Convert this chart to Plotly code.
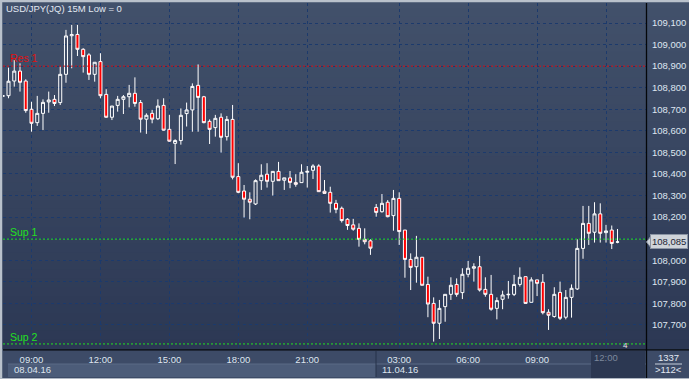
import plotly.graph_objects as go

# ---------------- data (15M bars, index 0 = 08.04.16 09:00) ----------------
bar_index = list(range(-5, 103))

opens = [108.760,
    108.763, 108.831, 108.877, 108.831, 108.700, 108.638, 108.681, 108.734, 108.746, 108.731,
    108.862, 109.041, 109.047, 108.978, 108.952, 108.862, 108.921, 108.769, 108.663, 108.718,
    108.746, 108.758, 108.774, 108.731, 108.654, 108.681, 108.656, 108.718, 108.607, 108.542,
    108.555, 108.680, 108.697, 108.811, 108.758, 108.644, 108.615, 108.663, 108.573, 108.653,
    108.388, 108.321, 108.283, 108.261, 108.369, 108.399, 108.366, 108.412, 108.371, 108.382,
    108.360, 108.360, 108.408, 108.417, 108.437, 108.320, 108.315, 108.264, 108.241, 108.190,
    108.164, 108.148, 108.097, 108.090, 108.245, 108.225, 108.269, 108.207, 108.287, 108.140,
    108.004, 107.970, 108.014, 107.888, 107.800, 107.708, 107.785, 107.842, 107.888, 107.850,
    107.935, 107.963, 107.970, 107.865, 107.842, 107.777, 107.819, 107.840, 107.842, 107.888,
    107.924, 107.805, 107.909, 107.898, 107.759, 107.739, 107.851, 107.736, 107.828, 107.867,
    108.055, 108.171, 108.130, 108.215, 108.128, 108.140, 108.084]
highs = [108.766,
    108.893, 108.929, 108.913, 108.839, 108.735, 108.762, 108.746, 108.782, 108.766, 108.898,
    109.068, 109.091, 109.091, 108.983, 108.960, 108.918, 108.960, 108.793, 108.715, 108.762,
    108.766, 108.813, 108.848, 108.743, 108.681, 108.697, 108.746, 108.751, 108.674, 108.561,
    108.704, 108.731, 108.820, 108.908, 108.762, 108.653, 108.674, 108.681, 108.669, 108.720,
    108.450, 108.349, 108.315, 108.375, 108.445, 108.450, 108.412, 108.456, 108.382, 108.414,
    108.399, 108.445, 108.437, 108.445, 108.445, 108.372, 108.341, 108.280, 108.249, 108.195,
    108.192, 108.171, 108.148, 108.097, 108.261, 108.307, 108.279, 108.326, 108.315, 108.140,
    108.032, 108.113, 108.014, 107.924, 107.828, 107.816, 107.842, 107.921, 107.916, 107.963,
    107.997, 107.986, 108.020, 107.921, 107.932, 107.828, 107.859, 107.904, 107.932, 107.967,
    107.924, 107.921, 107.909, 107.936, 107.773, 107.875, 107.901, 107.862, 107.888, 108.097,
    108.252, 108.252, 108.269, 108.264, 108.164, 108.161, 108.145]
lows = [108.757,
    108.751, 108.805, 108.782, 108.684, 108.596, 108.623, 108.604, 108.684, 108.715, 108.720,
    108.823, 108.890, 108.947, 108.870, 108.836, 108.828, 108.751, 108.661, 108.650, 108.689,
    108.678, 108.709, 108.712, 108.592, 108.586, 108.635, 108.650, 108.601, 108.550, 108.446,
    108.536, 108.620, 108.596, 108.596, 108.635, 108.539, 108.573, 108.499, 108.555, 108.375,
    108.311, 108.198, 108.190, 108.256, 108.326, 108.337, 108.300, 108.369, 108.326, 108.334,
    108.341, 108.360, 108.337, 108.377, 108.318, 108.310, 108.221, 108.218, 108.175, 108.141,
    108.137, 108.063, 108.074, 108.025, 108.202, 108.221, 108.199, 108.137, 108.071, 107.919,
    107.862, 107.896, 107.884, 107.736, 107.623, 107.635, 107.715, 107.816, 107.831, 107.820,
    107.921, 107.901, 107.855, 107.831, 107.766, 107.726, 107.773, 107.822, 107.834, 107.878,
    107.800, 107.805, 107.834, 107.749, 107.677, 107.734, 107.723, 107.726, 107.734, 107.862,
    108.007, 108.071, 108.082, 108.082, 108.082, 108.052, 108.079]
closes = [108.763,
    108.830, 108.877, 108.825, 108.694, 108.635, 108.681, 108.732, 108.743, 108.727, 108.862,
    109.040, 109.046, 108.978, 108.944, 108.862, 108.918, 108.763, 108.663, 108.715, 108.746,
    108.758, 108.774, 108.727, 108.654, 108.672, 108.654, 108.715, 108.603, 108.552, 108.555,
    108.672, 108.697, 108.806, 108.755, 108.638, 108.607, 108.658, 108.570, 108.653, 108.385,
    108.315, 108.283, 108.269, 108.369, 108.394, 108.366, 108.412, 108.369, 108.382, 108.361,
    108.352, 108.408, 108.412, 108.437, 108.318, 108.310, 108.264, 108.236, 108.184, 108.161,
    108.144, 108.097, 108.086, 108.056, 108.222, 108.264, 108.202, 108.287, 108.133, 108.004,
    107.967, 108.014, 107.884, 107.797, 107.708, 107.777, 107.842, 107.884, 107.842, 107.935,
    107.963, 107.970, 107.862, 107.842, 107.773, 107.813, 107.839, 107.842, 107.888, 107.921,
    107.800, 107.909, 107.893, 107.757, 107.745, 107.842, 107.731, 107.828, 107.870, 108.055,
    108.171, 108.125, 108.215, 108.125, 108.136, 108.078, 108.085]

time_tick_index = [0, 12, 24, 36, 48, 64, 76, 88, 100]
time_tick_labels = ["09:00", "12:00", "15:00", "18:00", "21:00", "03:00", "06:00", "09:00", ""]
future_label = "12:00"
date_labels = ["08.04.16", "11.04.16"]

price_ticks = [107.7, 107.8, 107.9, 108.0, 108.1, 108.2, 108.3, 108.4, 108.5,
               108.6, 108.7, 108.8, 108.9, 109.0, 109.1]
# the 108,100 label is hidden behind the last-price marker in the reference
price_tick_labels = ["" if abs(v - 108.1) < 1e-9 else f"{v:.3f}".replace(".", ",")
                     for v in price_ticks]

level_names = ["Res 1", "Sup 1", "Sup 2"]
level_values = [108.900, 108.098, 107.612]
level_colors = ["#e01010", "#22e022", "#22e022"]
last_price = 108.085

title_text = "USD/JPY(JQ) 15M Low = 0"
corner_top, corner_bottom = "1337", ">112<"

# ---------------- layout geometry ----------------
W, H = 689, 379
L, R, T, B = 3, 43, 3, 30
PW, PH = W - L - R, H - T - B


def px(x):
    return (x - L) / PW


def py(y):
    return (H - B - y) / PH


fig = go.Figure()
fig.add_trace(go.Candlestick(
    x=bar_index, open=opens, high=highs, low=lows, close=closes,
    increasing=dict(line=dict(color="#ffffff", width=1), fillcolor="rgba(0,0,0,0)"),
    decreasing=dict(line=dict(color="#ffffff", width=1), fillcolor="#ff0000"),
    whiskerwidth=0, hoverinfo="skip", showlegend=False,
))

shapes = []
# background gradient (plot + right axis column)
top_c = (66, 81, 107)
bot_c = (44, 56, 84)
n = 40
for i in range(n):
    y0 = 349 * i / n
    y1 = 349 * (i + 1) / n
    t = (i + 0.5) / n
    c = tuple(int(round(top_c[k] + (bot_c[k] - top_c[k]) * t)) for k in range(3))
    shapes.append(dict(type="rect", xref="paper", yref="paper", layer="below",
                       x0=px(0), x1=px(W), y0=py(y1), y1=py(y0) + (0.002 if i else 0),
                       fillcolor=f"rgb{c}", line=dict(width=0)))
# bottom axis bands
shapes.append(dict(type="rect", xref="paper", yref="paper", layer="below",
                   x0=px(0), x1=px(W), y0=py(H), y1=py(349),
                   fillcolor="#3d4b67", line=dict(width=0)))
shapes.append(dict(type="rect", xref="paper", yref="paper", layer="below",
                   x0=px(8), x1=px(376), y0=py(377), y1=py(364),
                   fillcolor="#4c5c79", line=dict(width=0)))
shapes.append(dict(type="rect", xref="paper", yref="paper", layer="below",
                   x0=px(376), x1=px(646), y0=py(377), y1=py(364),
                   fillcolor="#3a4864", line=dict(width=0)))
shapes.append(dict(type="line", xref="paper", yref="paper", layer="below",
                   x0=px(8), x1=px(646), y0=py(364), y1=py(364),
                   line=dict(color="#5a6a86", width=1)))
shapes.append(dict(type="line", xref="paper", yref="paper", layer="below",
                   x0=px(376), x1=px(376), y0=py(377), y1=py(351),
                   line=dict(color="#26324a", width=1)))
# future time box
shapes.append(dict(type="rect", xref="paper", yref="paper", layer="below",
                   x0=px(591), x1=px(645), y0=py(378), y1=py(351),
                   fillcolor="#2c3852", line=dict(width=0)))
# corner separator line
shapes.append(dict(type="line", xref="paper", yref="paper", layer="above",
                   x0=px(655), x1=px(682), y0=py(364), y1=py(364),
                   line=dict(color="#c8d0dc", width=1)))

# support / resistance levels
for v, c in zip(level_values, level_colors):
    shapes.append(dict(type="line", xref="paper", yref="y", layer="above",
                       x0=0, x1=1, y0=v, y1=v,
                       line=dict(color=c, width=1, dash="2px,2px")))

# axis frame lines
shapes.append(dict(type="line", xref="paper", yref="paper", layer="above",
                   x0=px(646.5), x1=px(646.5), y0=py(H), y1=py(3),
                   line=dict(color="#05070a", width=1.3)))
shapes.append(dict(type="line", xref="paper", yref="paper", layer="above",
                   x0=px(3), x1=px(W), y0=py(349.8), y1=py(349.8),
                   line=dict(color="#05070a", width=1.3)))
# outer light frame
shapes.append(dict(type="line", xref="paper", yref="paper", layer="above",
                   x0=px(1), x1=px(1), y0=py(H), y1=py(0),
                   line=dict(color="#b9c1cb", width=2.5)))
shapes.append(dict(type="line", xref="paper", yref="paper", layer="above",
                   x0=px(0), x1=px(W), y0=py(1), y1=py(1),
                   line=dict(color="#b9c1cb", width=2.5)))
shapes.append(dict(type="line", xref="paper", yref="paper", layer="above",
                   x0=px(0), x1=px(W), y0=py(378.5), y1=py(378.5),
                   line=dict(color="#aeb6c2", width=1)))

annotations = []
annotations.append(dict(xref="paper", yref="paper", x=px(4), y=py(8.5),
                        xanchor="left", yanchor="middle", showarrow=False,
                        text=title_text,
                        font=dict(family="Liberation Sans, Arial", size=9.5, color="#e2e8f2")))
label_y = [57.5, 231.5, 336.5]
for name, c, yy in zip(level_names, level_colors, label_y):
    annotations.append(dict(xref="paper", yref="paper", x=px(8), y=py(yy),
                            xanchor="left", yanchor="middle", showarrow=False,
                            text=name,
                            font=dict(family="Liberation Sans, Arial", size=10.5, color=c)))
annotations.append(dict(xref="paper", yref="paper", x=px(625), y=py(345),
                        xanchor="center", yanchor="middle", showarrow=False, text="4",
                        font=dict(family="Liberation Sans, Arial", size=8, color="#e8e8e8")))
# date row
for txt, xx in zip(date_labels, [12, 380]):
    annotations.append(dict(xref="paper", yref="paper", x=px(xx), y=py(369.5),
                            xanchor="left", yanchor="middle", showarrow=False, text=txt,
                            font=dict(family="Liberation Sans, Arial", size=9.5, color="#dde4ee")))
annotations.append(dict(xref="x", yref="paper", x=time_tick_index[-1], y=py(358),
                        xanchor="center", yanchor="middle", showarrow=False, text=future_label,
                        font=dict(family="Liberation Sans, Arial", size=9.5, color="#7c889c")))
# last price marker (notch + box)
shapes.append(dict(type="path", xref="paper", yref="y", layer="above",
                   path=(f"M {px(646.5)},{last_price} L {px(651)},{last_price + 0.027} "
                         f"L {px(651)},{last_price - 0.027} Z"),
                   fillcolor="#cfd4da", line=dict(color="#8a94a4", width=1)))
annotations.append(dict(xref="paper", yref="y", x=px(650), y=last_price,
                        xanchor="left", yanchor="middle", showarrow=False,
                        text=f"{last_price:.3f}".replace(".", ","),
                        bgcolor="#cfd4da", bordercolor="#8a94a4", borderwidth=1, borderpad=1,
                        font=dict(family="Liberation Sans, Arial", size=9.5, color="#1e2636")))
# corner box
annotations.append(dict(xref="paper", yref="paper", x=px(668), y=py(357),
                        xanchor="center", yanchor="middle", showarrow=False, text=corner_top,
                        font=dict(family="Liberation Sans, Arial", size=9.5, color="#e2e8f2")))
annotations.append(dict(xref="paper", yref="paper", x=px(668), y=py(369.5),
                        xanchor="center", yanchor="middle", showarrow=False, text=corner_bottom,
                        font=dict(family="Liberation Sans, Arial", size=9.5, color="#e2e8f2")))

grid_color = "#1c3a6c"
fig.update_layout(
    width=W, height=H,
    margin=dict(l=L, r=R, t=T, b=B, pad=0),
    paper_bgcolor="#3d4b67",
    plot_bgcolor="rgba(0,0,0,0)",
    showlegend=False,
    boxgap=0.25,
    shapes=shapes,
    annotations=annotations,
    font=dict(family="Liberation Sans, Arial", size=9.5, color="#dfe6f0"),
    xaxis=dict(
        range=[-4.96, 106.96], rangeslider=dict(visible=False),
        tickmode="array", tickvals=time_tick_index, ticktext=time_tick_labels,
        showgrid=True, gridcolor=grid_color, griddash="3px,3px", gridwidth=1,
        zeroline=False, showline=False, ticks="outside", ticklen=2,
        tickcolor="rgba(0,0,0,0)", fixedrange=True,
    ),
    yaxis=dict(
        range=[107.5886, 109.1927], side="right",
        tickmode="array", tickvals=price_ticks, ticktext=price_tick_labels,
        showgrid=True, gridcolor=grid_color, griddash="3px,3px", gridwidth=1,
        zeroline=False, showline=False, ticks="outside", ticklen=3,
        tickcolor="rgba(0,0,0,0)", fixedrange=True,
    ),
)

fig.write_html(
    "out.html",
    config={"displayModeBar": False},
    post_script="document.body.style.margin='0';document.body.style.overflow='hidden';",
)
